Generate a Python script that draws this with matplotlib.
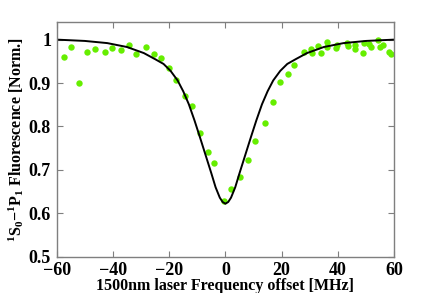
import matplotlib
matplotlib.use("Agg")
import matplotlib.pyplot as plt
import numpy as np

# ---- data ---------------------------------------------------------------------
freq_pts = [-57.5, -54.9, -52.1, -49.3, -46.4, -42.9, -40.2, -37.2, -34.3, -31.9,
            -28.1, -25.5, -22.8, -20.2, -17.7, -14.2, -11.8, -9.1, -6.2, -4.1,
            -0.5, 2.0, 5.1, 8.0, 10.6, 14.1, 16.9, 19.3, 22.2, 24.4,
            27.8, 30.4, 30.8, 33.1, 34.0, 36.3, 36.3, 39.5, 39.8, 43.2,
            43.5, 46.0, 46.1, 49.0, 49.2, 51.2, 51.9, 54.1, 54.8, 56.2,
            58.2, 58.8]
fluo_pts = [0.961, 0.982, 0.900, 0.971, 0.978, 0.971, 0.980, 0.977, 0.988, 0.966,
            0.984, 0.968, 0.957, 0.935, 0.906, 0.869, 0.848, 0.786, 0.741, 0.715,
            0.629, 0.657, 0.684, 0.722, 0.766, 0.809, 0.856, 0.902, 0.921, 0.942,
            0.971, 0.978, 0.969, 0.985, 0.970, 0.994, 0.983, 0.980, 0.988, 0.993,
            0.986, 0.979, 0.988, 0.970, 0.992, 0.990, 0.983, 0.998, 0.984, 0.987,
            0.972, 0.966]

# fit curve
freq_fit = [-60, -50, -42, -35, -29, -25, -22, -19.5, -17, -15, -13, -11, -9, -7,
            -5, -3.5, -2, -1, 0, 1, 2, 3.5, 5, 7, 9, 11, 13, 15, 17, 19.5,
            22, 25, 29, 35, 42, 50, 60]
fluo_fit = [1.000, 0.997, 0.992, 0.983, 0.969, 0.955, 0.944, 0.928, 0.906, 0.881,
            0.851, 0.814, 0.774, 0.733, 0.692, 0.660, 0.636, 0.626, 0.622, 0.626,
            0.636, 0.660, 0.692, 0.733, 0.774, 0.814, 0.851, 0.881, 0.906, 0.928,
            0.944, 0.955, 0.969, 0.983, 0.992, 0.997, 1.000]

xticks = [-60, -40, -20, 0, 20, 40, 60]
yticks = [0.5, 0.6, 0.7, 0.8, 0.9, 1.0]
yticklabels = ["0.5", "0.6", "0.7", "0.8", "0.9", "1"]

# ---- plot ---------------------------------------------------------------------
plt.rcParams['font.family'] = ['Liberation Serif', 'DejaVu Serif']
plt.rcParams['font.weight'] = 'bold'
plt.rcParams['mathtext.fontset'] = 'custom'
plt.rcParams['mathtext.rm'] = 'Liberation Serif:bold'
plt.rcParams['mathtext.bf'] = 'Liberation Serif:bold'
plt.rcParams['mathtext.it'] = 'Liberation Serif:bold'

fig = plt.figure(figsize=(4.36, 2.93), dpi=100)
ax = fig.add_axes([0.130, 0.124, 0.774, 0.800])

ax.plot(freq_pts, fluo_pts, 'o', color='#66ee00', markersize=4.6, markeredgewidth=0)
ax.plot(freq_fit, fluo_fit, color='black', linewidth=1.4)

ax.set_xlim(-60, 60)
ax.set_ylim(0.5, 1.04)
ax.set_xticks(xticks)
ax.set_yticks(yticks)
ax.set_yticklabels(yticklabels)

for s in ax.spines.values():
    s.set_color('#7f7f7f')
    s.set_linewidth(1.0)
ax.tick_params(direction='in', top=True, right=True, length=4, width=0.8,
               color='#7f7f7f', labelsize=13)
ax.tick_params(axis='x', pad=4)
ax.tick_params(axis='y', pad=4)
for lab in ax.get_xticklabels() + ax.get_yticklabels():
    lab.set_fontweight('bold')

ax.set_xlabel("1500nm laser Frequency offset [MHz]", fontsize=11.5, fontweight='bold', labelpad=-1)
ax.set_ylabel(r"$^1$S$_0$$-$$^1$P$_1$ Fluorescence [Norm.]", fontsize=11.5, fontweight='bold', labelpad=2)

fig.savefig("out.png", dpi=100)
